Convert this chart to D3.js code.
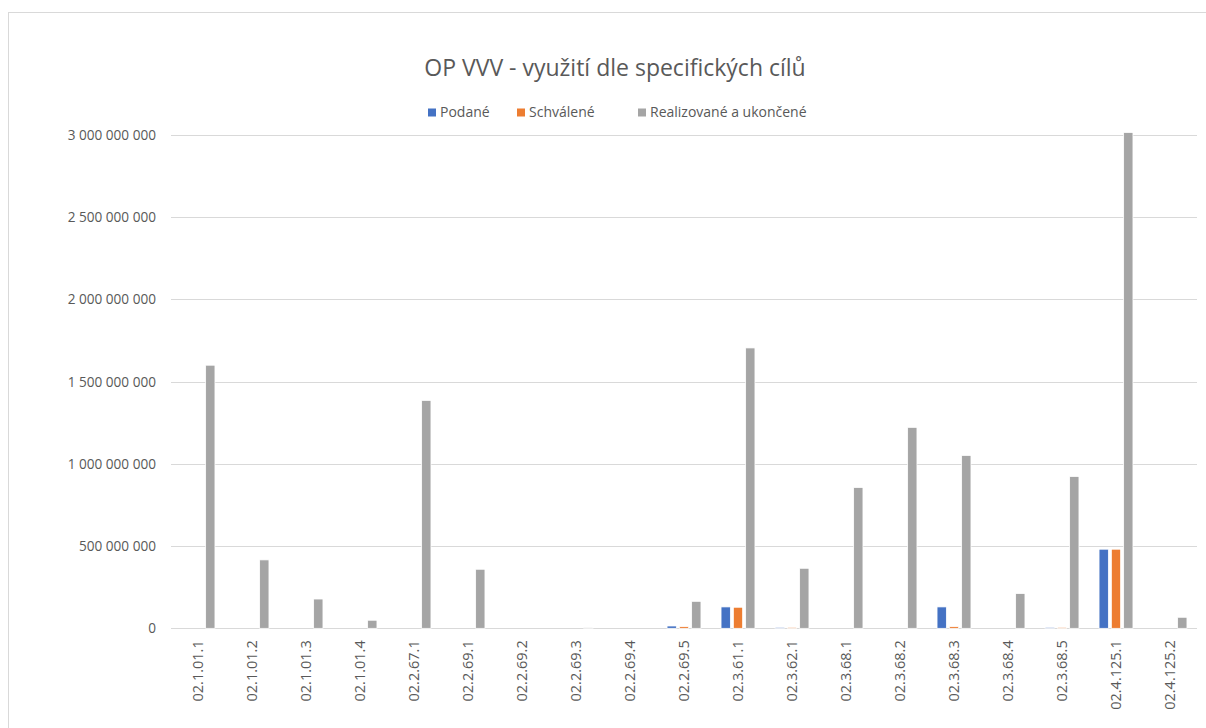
<!DOCTYPE html>
<html>
<head>
<meta charset="utf-8">
<script src="https://cdn.jsdelivr.net/npm/d3@7"></script>
<style>
  body { margin: 0; background: #fff; }
  text { font-family: "Open Sans", "Noto Sans", sans-serif; fill: #595959; }
</style>
</head>
<body>
<script>
// ---------- data ----------
const categories = ['02.1.01.1', '02.1.01.2', '02.1.01.3', '02.1.01.4', '02.2.67.1', '02.2.69.1',
  '02.2.69.2', '02.2.69.3', '02.2.69.4', '02.2.69.5', '02.3.61.1', '02.3.62.1', '02.3.68.1',
  '02.3.68.2', '02.3.68.3', '02.3.68.4', '02.3.68.5', '02.4.125.1', '02.4.125.2'];
const seriesNames = ['Podané', 'Schválené', 'Realizované a ukončené'];
const podane = [0, 0, 0, 0, 0, 0, 0, 0, 0, 14e6, 130e6, 6e6, 0, 0, 130e6, 0, 6e6, 481e6, 0];
const schvalene = [0, 0, 0, 0, 0, 0, 0, 0, 0, 10e6, 128e6, 6e6, 0, 0, 10e6, 0, 6e6, 481e6, 0];
const realizovane = [1600e6, 416e6, 178e6, 49e6, 1386e6, 359e6, 0, 5e6, 0, 164e6, 1705e6, 365e6,
  856e6, 1222e6, 1051e6, 211e6, 923e6, 3015e6, 67e6];
const yTicks = [0, 500e6, 1000e6, 1500e6, 2000e6, 2500e6, 3000e6];
const colors = ['#4472C4', '#ED7D31', '#A5A5A5'];

const width = 1206, height = 728;
const plotLeft = 171, plotRight = 1197, plotTop = 135, plotBottom = 628.3;

const svg = d3.select('body').append('svg')
  .attr('width', width).attr('height', height);

// chart area border
svg.append('rect')
  .attr('x', 8.5).attr('y', 12.5)
  .attr('width', 1220).attr('height', 740)
  .attr('fill', '#fff').attr('stroke', '#d9d9d9');

// ---------- scales ----------
const x0 = d3.scaleBand().domain(categories).range([plotLeft, plotRight]).padding(0);
const groupW = 33.9;
const x1 = d3.scaleBand().domain(seriesNames).range([0, groupW]).paddingInner(0.244);
const y = d3.scaleLinear().domain([0, 3e9]).range([plotBottom, plotTop]);

const locale = d3.formatLocale({ decimal: ',', thousands: '\u00a0', grouping: [3], currency: ['', ''] });
const fmt = locale.format(',d');

// gridlines
svg.append('g').selectAll('line').data(yTicks).join('line')
  .attr('x1', plotLeft).attr('x2', plotRight)
  .attr('y1', d => Math.round(y(d)) + 0.5).attr('y2', d => Math.round(y(d)) + 0.5)
  .attr('stroke', '#d9d9d9').attr('stroke-width', 1);

// y axis labels
const yAxis = svg.append('g')
  .attr('transform', `translate(${plotLeft},0)`)
  .call(d3.axisLeft(y).tickValues(yTicks).tickFormat(fmt).tickSize(0).tickPadding(15));
yAxis.select('.domain').remove();
yAxis.selectAll('text')
  .style('font-size', '13.6px')
  .style('font-family', '"Open Sans", "Noto Sans", sans-serif')
  .attr('fill', '#595959');

// ---------- bars ----------
const rows = categories.map((c, i) => ({ cat: c, vals: [podane[i], schvalene[i], realizovane[i]] }));
const groupOffset = (x0.bandwidth() - groupW) / 2;

svg.append('g').selectAll('g').data(rows).join('g')
  .attr('transform', d => `translate(${x0(d.cat) + groupOffset},0)`)
  .selectAll('rect')
  .data(d => d.vals.map((v, k) => ({ name: seriesNames[k], value: v, k: k })).filter(d => d.value > 0))
  .join('rect')
  .attr('x', d => x1(d.name))
  .attr('width', x1.bandwidth())
  .attr('y', d => y(d.value))
  .attr('height', d => plotBottom - y(d.value))
  .attr('fill', d => colors[d.k])
  .attr('stroke', '#fff').attr('stroke-width', 0.75);

// x axis labels
const xAxis = svg.append('g')
  .attr('transform', `translate(0,${plotBottom})`)
  .call(d3.axisBottom(x0).tickSize(0).tickPadding(0));
xAxis.select('.domain').remove();
xAxis.selectAll('text')
  .style('font-size', '14.5px')
  .style('font-family', '"Open Sans", "Noto Sans", sans-serif')
  .attr('fill', '#595959')
  .attr('transform', 'rotate(-90)')
  .attr('text-anchor', 'end')
  .attr('x', -12).attr('y', 0).attr('dy', '0.35em');

// ---------- title ----------
svg.append('text')
  .attr('x', 615).attr('y', 76)
  .attr('text-anchor', 'middle')
  .style('font-size', '23px')
  .text('OP VVV - využití dle specifických cílů');

// ---------- legend ----------
const legendX = [428, 517, 638];
const legend = svg.append('g').selectAll('g').data(seriesNames).join('g')
  .attr('transform', (d, i) => `translate(${legendX[i]},112)`);
legend.append('rect')
  .attr('x', 0).attr('y', -3.5).attr('width', 8).attr('height', 8)
  .attr('fill', (d, i) => colors[i]);
legend.append('text')
  .attr('x', 12).attr('y', 0).attr('dy', '0.35em')
  .style('font-size', '14px')
  .text(d => d);
</script>
</body>
</html>
